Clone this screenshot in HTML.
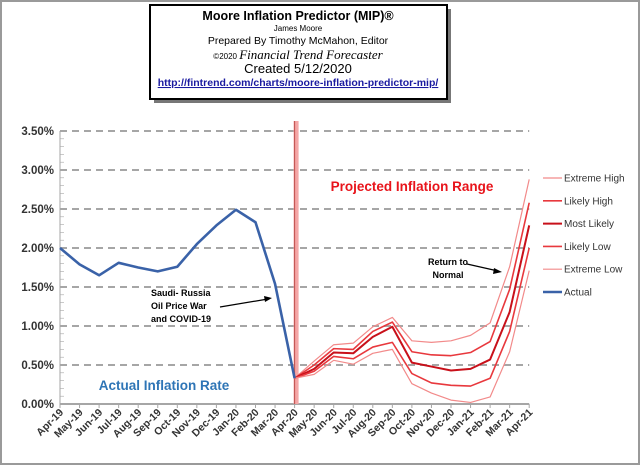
<!DOCTYPE html>
<html><head><meta charset="utf-8"><style>
body{margin:0;background:#fff}
svg{display:block;font-family:"Liberation Sans",sans-serif}
</style></head><body>
<svg width="640" height="465" viewBox="0 0 640 465">
<rect x="1" y="1" width="638" height="463" fill="#fff" stroke="#9a9a9a" stroke-width="2"/>
<g>
<rect x="154" y="9" width="297" height="94" fill="#777"/>
<rect x="150" y="5" width="297" height="94" fill="#fff" stroke="#000" stroke-width="2"/>
<text x="298" y="20" text-anchor="middle" font-weight="bold" font-size="12.5">Moore Inflation Predictor (MIP)®</text>
<text x="298" y="31" text-anchor="middle" font-size="8">James Moore</text>
<text x="298" y="44" text-anchor="middle" font-size="10.5">Prepared  By Timothy McMahon, Editor</text>
<text x="298" y="59" text-anchor="middle" font-size="13"><tspan font-size="8">©2020 </tspan><tspan font-family="Liberation Serif,serif" font-style="italic">Financial Trend Forecaster</tspan></text>
<text x="298" y="73" text-anchor="middle" font-size="13">Created  5/12/2020</text>
<text x="298" y="86" text-anchor="middle" font-size="10.5" font-weight="bold" fill="#1a1aa0" text-decoration="underline">http://fintrend.com/charts/moore-inflation-predictor-mip/</text>
</g>
<g id="plot"></g>
<text x="164" y="390" text-anchor="middle" font-weight="bold" font-size="13.5" fill="#2e75b6">Actual Inflation Rate</text>
<text x="412" y="191" text-anchor="middle" font-weight="bold" font-size="13.5" fill="#e8141b">Projected Inflation Range</text>
<g font-size="9" font-weight="bold">
<text x="151" y="296">Saudi- Russia</text><text x="151" y="309">Oil Price War</text><text x="151" y="322">and COVID-19</text>
<line x1="220" y1="307" x2="268" y2="299" stroke="#000" stroke-width="1.2"/>
<polygon points="272,298 264,296 265,302" fill="#000"/>
</g>
<g font-size="9" font-weight="bold">
<text x="448" y="265" text-anchor="middle">Return to</text><text x="448" y="278" text-anchor="middle">Normal</text>
<line x1="467" y1="264" x2="498" y2="271" stroke="#000" stroke-width="1.2"/>
<polygon points="502,272 494,268 493,274" fill="#000"/>
</g>
<g id="legend" font-size="10" fill="#333"></g>
</svg>
<script>
const months=["Apr-19","May-19","Jun-19","Jul-19","Aug-19","Sep-19","Oct-19","Nov-19","Dec-19","Jan-20","Feb-20","Mar-20","Apr-20","May-20","Jun-20","Jul-20","Aug-20","Sep-20","Oct-20","Nov-20","Dec-20","Jan-21","Feb-21","Mar-21","Apr-21"];
const yTicks=[0,0.5,1,1.5,2,2.5,3,3.5];
const actual=[2.0,1.79,1.65,1.81,1.75,1.70,1.76,2.05,2.29,2.49,2.33,1.54,0.33];
const extremeHigh=[0.33,0.55,0.76,0.78,0.99,1.11,0.81,0.79,0.81,0.88,1.04,1.76,2.88];
const likelyHigh=[0.33,0.50,0.71,0.70,0.93,1.05,0.67,0.63,0.62,0.66,0.80,1.47,2.58];
const mostLikely=[0.33,0.45,0.66,0.65,0.86,0.99,0.53,0.48,0.43,0.45,0.57,1.18,2.29];
const likelyLow=[0.33,0.42,0.61,0.58,0.73,0.79,0.39,0.27,0.24,0.23,0.33,0.93,2.00];
const extremeLow=[0.33,0.38,0.56,0.51,0.65,0.70,0.26,0.14,0.05,0.02,0.09,0.67,1.71];
const NS="http://www.w3.org/2000/svg";
const x0=60,step=19.55,yBase=404,yTop=131,ymax=3.5;
const X=i=>x0+i*step, Y=v=>yBase-(v/ymax)*(yBase-yTop);
const plot=document.getElementById('plot');
function mk(t,a,p){const e=document.createElementNS(NS,t);for(const k in a)e.setAttribute(k,a[k]);(p||plot).appendChild(e);return e;}
// grid + y labels
yTicks.forEach(v=>{
 if(v>0){const g=mk('line',{x1:x0,x2:X(24),y1:Y(v),y2:Y(v),stroke:'#a6a6a6','stroke-width':2,'stroke-dasharray':'7,5'});
 
 }
 const t=mk('text',{x:x0-6,y:Y(v)+4,'text-anchor':'end','font-size':11.5,'font-weight':'bold',fill:'#333'});
 t.textContent=v.toFixed(2)+'%';
 
 
});
// axes
mk('line',{x1:x0,x2:x0,y1:yTop,y2:yBase,stroke:'#a6a6a6','stroke-width':1});
mk('line',{x1:x0,x2:X(24),y1:yBase,y2:yBase,stroke:'#a6a6a6','stroke-width':2});
for(let v=0;v<=3.5;v+=0.1){mk('line',{x1:x0,x2:x0+4,y1:Y(v),y2:Y(v),stroke:'#a6a6a6','stroke-width':0.6});}
months.forEach((m,i)=>{
 mk('line',{x1:X(i),x2:X(i),y1:yBase,y2:yBase+4,stroke:'#a6a6a6'});
 const t=mk('text',{transform:`translate(${X(i)+4},${yBase+9}) rotate(-45)`,'text-anchor':'end','font-size':10.5,'font-weight':'bold',fill:'#333'});
 t.textContent=m;
 
 
});
// divider band
const band=mk('rect',{x:X(12)-1,y:121,width:5,height:yBase-121,fill:'#f4a6a6'});


mk('line',{x1:X(12),x2:X(12),y1:121,y2:yBase,stroke:'#c0504d','stroke-width':1});
function line(arr,off,color,w,name){
 const p=mk('polyline',{points:arr.map((v,i)=>X(i+off)+','+Y(v)).join(' '),fill:'none',stroke:color,'stroke-width':w,'stroke-linejoin':'round'});
 
 
}
const series=[[extremeHigh,'#f28a8a',1.2,'Extreme High','extreme-high-line'],[likelyHigh,'#e8383d',1.6,'Likely High','likely-high-line'],[mostLikely,'#c8101a',2,'Most Likely','most-likely-line'],[likelyLow,'#e8383d',1.6,'Likely Low','likely-low-line'],[extremeLow,'#f28a8a',1.2,'Extreme Low','extreme-low-line']];
series.forEach(s=>line(s[0],12,s[1],s[2],s[4]));
line(actual,0,'#3a62a8',2.6,'actual-line');
const lg=document.getElementById('legend');
const entries=series.map(s=>[s[3],s[1],s[2]]).concat([['Actual','#3a62a8',2.6]]);
entries.forEach((e,i)=>{
 const y=178+i*22.8;
 const g=mk('g',{},lg);
 
 
 mk('line',{x1:543,x2:562,y1:y,y2:y,stroke:e[1],'stroke-width':e[2]},g);
 const t=mk('text',{x:564,y:y+3.5},g);t.textContent=e[0];
});
</script>
</body></html>
